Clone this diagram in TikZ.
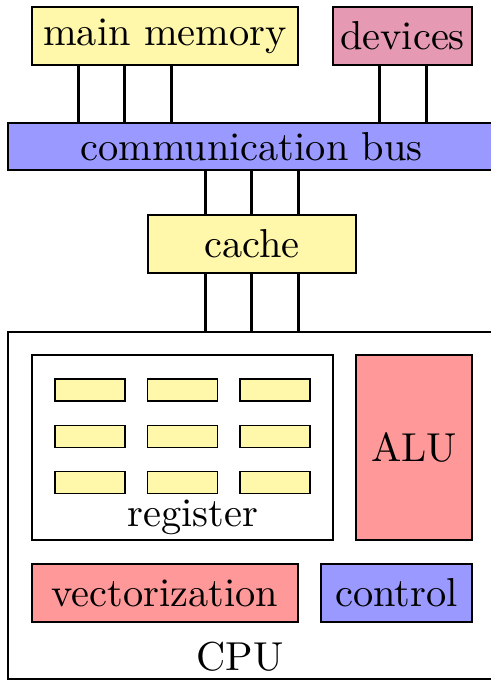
\documentclass[tikz,border=0pt]{standalone}
\usepackage{fontspec}
\newfontfamily\lmten{lmroman10-regular.otf}
\begin{document}
\definecolor{memyellow}{RGB}{255,247,170}
\begin{tikzpicture}[x=0.5pt,y=-0.5pt,
  lbl/.style={font=\lmten\fontsize{20.2}{24}\selectfont},
  box/.style={draw, line width=0.7pt, inner sep=0pt, lbl},
  link/.style={line width=1.5pt},
  reg/.style={box, fill=memyellow, minimum width=35pt, minimum height=11pt}]
  \useasboundingbox (0,0) rectangle (491,681);

  % memory, devices and the bus
  \node[box, fill=memyellow, minimum width=133pt, minimum height=29pt] (mem) at (165,36) {main memory};
  \node[box, fill=purple!40, minimum width=69.5pt, minimum height=29pt] (dev) at (402.5,36) {devices};
  \node[box, fill=blue!40, minimum width=243.5pt, minimum height=23.5pt] (bus) at (251.5,146.5) {communication bus};
  \node[box, fill=memyellow, minimum width=104pt, minimum height=29pt] (cache) at (252,244) {cache};

  % processor
  \node[box, minimum width=243.5pt, minimum height=173.5pt] (cpu) at (251.5,505.5) {};
  \node[box, minimum width=150.5pt, minimum height=92.5pt] (regs) at (182.5,447.5) {};
  \node[lbl, inner sep=0pt] (reglabel) at (193,517) {register};
  \node[box, fill=red!40, minimum width=58pt, minimum height=92.5pt] (alu) at (414,447.5) {ALU};
  \node[box, fill=red!40, minimum width=133pt, minimum height=29pt] (vec) at (165,593) {vectorization};
  \node[box, fill=blue!40, minimum width=75.5pt, minimum height=29pt] (ctrl) at (396.5,593) {control};
  \node[lbl, inner sep=0pt] (cpulabel) at (240,657) {CPU};

  % register cells
  \foreach \c/\x in {1/90,2/182.5,3/275}
    \foreach \r/\y in {1/390,2/436.5,3/482.5}
      \node[reg] (r\c\r) at (\x,\y) {};

  % bus lines
  \foreach \x in {78,124,171}
    \draw[link] (\x,0 |- mem.south) -- (\x,0 |- bus.north);
  \foreach \x in {379,426}
    \draw[link] (\x,0 |- dev.south) -- (\x,0 |- bus.north);
  \foreach \x in {205,251,298}{
    \draw[link] (\x,0 |- bus.south) -- (\x,0 |- cache.north);
    \draw[link] (\x,0 |- cache.south) -- (\x,0 |- cpu.north);
  }
\end{tikzpicture}
\end{document}
